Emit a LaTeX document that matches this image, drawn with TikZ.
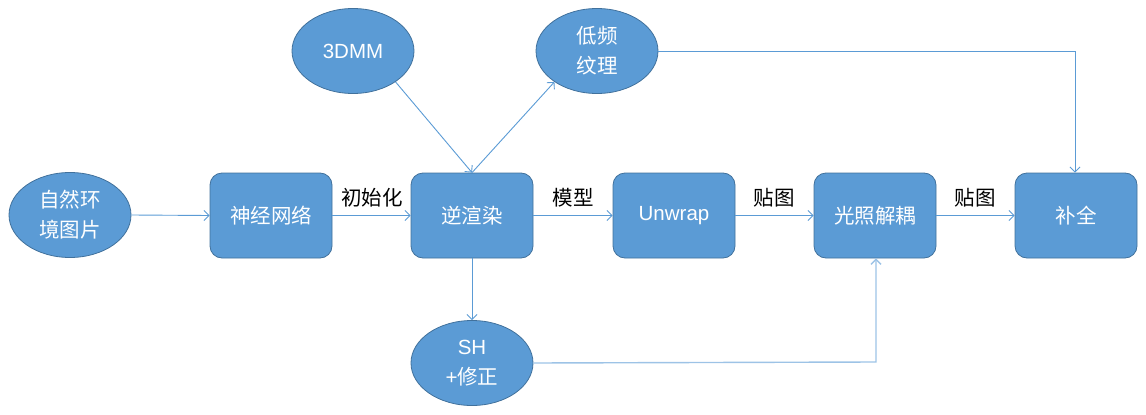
\documentclass[tikz,border=0pt]{standalone}
\usepackage{fontspec}
\setmainfont{Liberation Sans}
\newfontfamily\cjk{Noto Sans CJK SC}
\usetikzlibrary{arrows.meta,shapes.geometric}
\definecolor{boxfill}{HTML}{5B9BD5}
\definecolor{boxline}{HTML}{41719C}
\definecolor{arr}{HTML}{5B9BD5}
\definecolor{arrlight}{HTML}{9DC3E6}
\begin{document}
\begin{tikzpicture}[x=1pt,y=-1pt,
  every node/.style={font=\fontsize{20.5}{30}\selectfont},
  stepbox/.style={draw=boxline,line width=0.8pt,fill=boxfill,rounded corners=12pt,minimum width=122pt,minimum height=85pt,text=white,inner sep=0pt},
  blob/.style={draw=boxline,line width=0.8pt,fill=boxfill,ellipse,minimum width=122pt,minimum height=85pt,text=white,align=center,inner sep=0pt},
  conn/.style={draw=arr,line width=0.9pt,-{Straight Barb[length=5pt,width=10pt]}},
  connl/.style={draw=arrlight,line width=1.4pt,-{Straight Barb[length=5pt,width=10pt]}},
  lbl/.style={text=black,inner sep=0pt}]
\useasboundingbox (0,0) rectangle (1146,415);
\node[blob] (img) at (70,215) {\cjk 自然环\\\cjk 境图片};
\node[stepbox] (nn) at (271,215.5) {\cjk 神经网络};
\node[stepbox] (inv) at (472,215.5) {\cjk 逆渲染};
\node[stepbox] (unw) at (674,215.5) {Unwrap};
\node[stepbox] (light) at (875,215.5) {\cjk 光照解耦};
\node[stepbox] (fill) at (1076,215.5) {\cjk 补全};
\node[blob] (dmm) at (353,51) {3DMM};
\node[blob] (tex) at (597,51) {\cjk 低频\\\cjk 纹理};
\node[blob] (sh) at (472,363) {SH\\+{\cjk 修正}};
\coordinate (texc) at (1075,51);
\coordinate (shc) at (876,362);
\draw[conn] (img.east) -- (nn.west);
\draw[conn] (nn.east) -- (inv.west);
\draw[conn] (inv.east) -- (unw.west);
\draw[conn] (unw.east) -- (light.west);
\draw[conn] (light.east) -- (fill.west);
\draw[conn] (dmm.-36) -- (inv.north);
\draw[conn] (inv.north) -- (tex.-144);
\draw[conn] (inv.south) -- (sh.north);
\draw[conn] (tex.east) -- (texc) -- (fill.north -| texc);
\draw[connl] (sh.east) -- (shc) -- (light.south -| shc);
\node[lbl] (l1) at (372,198) {\cjk 初始化};
\node[lbl] (l2) at (573,198) {\cjk 模型};
\node[lbl] (l3) at (774,198) {\cjk 贴图};
\node[lbl] (l4) at (975,198) {\cjk 贴图};
\end{tikzpicture}
\end{document}
